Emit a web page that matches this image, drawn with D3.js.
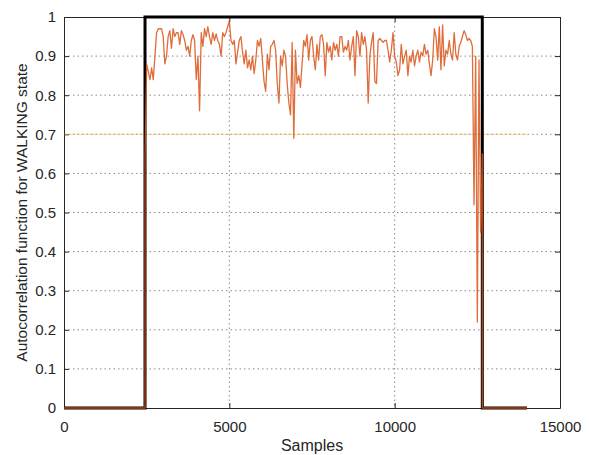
<!DOCTYPE html>
<html>
<head>
<meta charset="utf-8">
<script src="https://d3js.org/d3.v7.min.js"></script>
<style>
body { margin: 0; background: #fff; }
text { font-family: "Liberation Sans", Arial, sans-serif; fill: #262626; }
</style>
</head>
<body>
<svg width="589" height="455"></svg>
<script>

// state window (samples)
var walkStart = 2450,
    walkEnd = 12650,
    lastSample = 14000,
    sampleStep = 50,
    threshold = 0.7;

// autocorrelation values, one every 50 samples from walkStart
var acf = [
  0.64, 0.88, 0.86, 0.84, 0.87, 0.84, 0.90, 0.96, 0.97, 0.97,
  0.97, 0.95, 0.88, 0.90, 0.95, 0.965, 0.92, 0.97, 0.95, 0.96,
  0.96, 0.93, 0.965, 0.955, 0.94, 0.915, 0.925, 0.90, 0.94, 0.955,
  0.94, 0.84, 0.90, 0.76, 0.96, 0.925, 0.97, 0.95, 0.975, 0.95,
  0.93, 0.96, 0.94, 0.957, 0.94, 0.93, 0.90, 0.96, 0.95, 0.96,
  0.975, 0.99, 0.94, 0.93, 0.94, 0.88, 0.91, 0.94, 0.95, 0.91,
  0.88, 0.915, 0.87, 0.89, 0.865, 0.90, 0.855, 0.89, 0.94, 0.925,
  0.945, 0.89, 0.835, 0.81, 0.905, 0.865, 0.925, 0.93, 0.94, 0.915,
  0.83, 0.78, 0.90, 0.875, 0.915, 0.90, 0.83, 0.78, 0.75, 0.935,
  0.69, 0.915, 0.83, 0.85, 0.82, 0.88, 0.94, 0.925, 0.955, 0.89,
  0.94, 0.95, 0.90, 0.865, 0.93, 0.89, 0.95, 0.955, 0.93, 0.85,
  0.935, 0.91, 0.925, 0.89, 0.935, 0.915, 0.93, 0.90, 0.95, 0.95,
  0.91, 0.925, 0.915, 0.94, 0.89, 0.925, 0.95, 0.85, 0.965, 0.95,
  0.90, 0.96, 0.93, 0.95, 0.915, 0.78, 0.90, 0.935, 0.96, 0.835,
  0.83, 0.94, 0.945, 0.94, 0.935, 0.94, 0.94, 0.915, 0.885, 0.915,
  0.96, 0.90, 0.885, 0.85, 0.865, 0.93, 0.88, 0.90, 0.915, 0.85,
  0.90, 0.885, 0.915, 0.875, 0.90, 0.915, 0.885, 0.91, 0.90, 0.93,
  0.905, 0.915, 0.88, 0.85, 0.89, 0.97, 0.95, 0.89, 0.975, 0.865,
  0.98, 0.875, 0.915, 0.905, 0.94, 0.905, 0.89, 0.96, 0.905, 0.89,
  0.925, 0.935, 0.95, 0.965, 0.955, 0.94, 0.945, 0.94, 0.925, 0.52,
  0.90, 0.22, 0.89, 0.45, 0.65
];

var xTicks = [0, 5000, 10000, 15000];
var yTicks = [0, 0.1, 0.2, 0.3, 0.4, 0.5, 0.6, 0.7, 0.8, 0.9, 1];

var svg = d3.select("svg"),
    margin = {top: 17, right: 29, bottom: 47, left: 64},
    width = +svg.attr("width") - margin.left - margin.right,
    height = +svg.attr("height") - margin.top - margin.bottom,
    g = svg.append("g").attr("transform", "translate(" + margin.left + "," + margin.top + ")");

var x = d3.scaleLinear().domain([0, 15000]).range([0, width]);
var y = d3.scaleLinear().domain([0, 1]).range([height, 0]);

// grid
g.append("g").selectAll("line")
  .data(yTicks.slice(1, -1))
  .enter().append("line")
    .attr("x1", 0).attr("x2", width)
    .attr("y1", function(d) { return y(d); })
    .attr("y2", function(d) { return y(d); })
    .attr("stroke", "#8a8a8a")
    .attr("stroke-dasharray", "1.5,3");

g.append("g").selectAll("line")
  .data(xTicks.slice(1, -1))
  .enter().append("line")
    .attr("y1", 0).attr("y2", height)
    .attr("x1", function(d) { return x(d); })
    .attr("x2", function(d) { return x(d); })
    .attr("stroke", "#8a8a8a")
    .attr("stroke-dasharray", "1.5,3");

// axes (MATLAB style: inward ticks, box)
g.append("g").attr("transform", "translate(0," + height + ")")
  .call(d3.axisBottom(x).tickValues(xTicks).tickSizeInner(-5).tickSizeOuter(0).tickPadding(13).tickFormat(d3.format("d")));
g.append("g")
  .call(d3.axisLeft(y).tickValues(yTicks).tickSizeInner(-5).tickSizeOuter(0).tickPadding(8).tickFormat(function(d) { return d === 0 || d === 1 ? d : d3.format(".1f")(d); }));
g.append("g")
  .call(d3.axisTop(x).tickValues(xTicks).tickSizeInner(-5).tickSizeOuter(0).tickFormat(""));
g.append("g").attr("transform", "translate(" + width + ",0)")
  .call(d3.axisRight(y).tickValues(yTicks).tickSizeInner(-5).tickSizeOuter(0).tickFormat(""));

g.selectAll(".domain").attr("stroke", "#262626");
g.selectAll(".tick line").attr("stroke", "#262626");
g.selectAll(".tick text").style("font-size", "15px").attr("fill", "#262626");

// threshold line
g.append("line")
  .attr("x1", x(0)).attr("x2", x(lastSample))
  .attr("y1", y(threshold)).attr("y2", y(threshold))
  .attr("stroke", "#EDB120")
  .attr("stroke-opacity", 0.6)
  .attr("stroke-width", 0.8);

var line = d3.line()
  .x(function(d) { return x(d[0]); })
  .y(function(d) { return y(d[1]); });

// state indicator (step)
var state = [[0, 0], [walkStart, 0], [walkStart, 1], [walkEnd, 1], [walkEnd, 0], [lastSample, 0]];
g.append("path")
  .datum(state)
  .attr("fill", "none")
  .attr("stroke", "#000")
  .attr("stroke-width", 3)
  .attr("d", line);

// autocorrelation
var series = [[0, 0], [walkStart, 0]];
acf.forEach(function(v, i) { series.push([walkStart + i * sampleStep, v]); });
series.push([walkEnd, 0], [lastSample, 0]);

g.append("path")
  .datum(series)
  .attr("fill", "none")
  .attr("stroke", "#D95319")
  .attr("stroke-opacity", 0.85)
  .attr("stroke-width", 1.3)
  .attr("stroke-linejoin", "round")
  .attr("d", line);

// labels
svg.append("text")
  .attr("x", margin.left + width / 2)
  .attr("y", 451)
  .attr("text-anchor", "middle")
  .style("font-size", "16px")
  .text("Samples");

svg.append("text")
  .attr("transform", "translate(27," + (margin.top + height / 2) + ") rotate(-90)")
  .attr("text-anchor", "middle")
  .style("font-size", "15.5px")
  .text("Autocorrelation function for WALKING state");

</script>
</body>
</html>
